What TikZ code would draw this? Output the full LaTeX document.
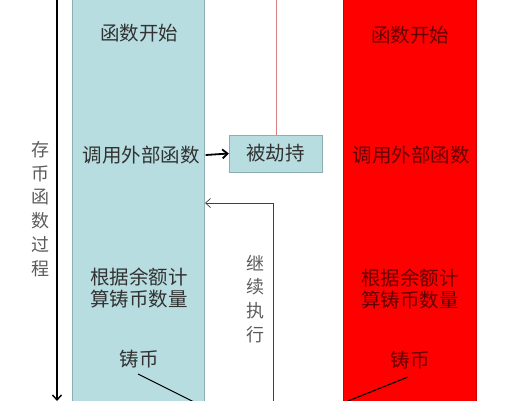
\documentclass[tikz,border=0pt]{standalone}
\usepackage{fontspec}
\newfontfamily\cjk{Noto Sans CJK SC}
\usepackage{xcolor}
\definecolor{tealbg}{RGB}{183,221,224}
\definecolor{tealedge}{RGB}{140,175,180}
\definecolor{txtgray}{RGB}{50,50,50}
\definecolor{dred}{RGB}{100,0,0}
\definecolor{pinkline}{RGB}{215,130,130}
\usepackage{tikz}
\usetikzlibrary{arrows.meta,positioning}

\begin{document}
\begin{tikzpicture}[
  x=1pt,y=-1pt,
  tealcol/.style={rectangle,draw=tealedge,fill=tealbg,minimum width=132,minimum height=440,inner sep=0},
  redcol/.style={rectangle,draw=red!80!black,fill=red,minimum width=133,minimum height=440,inner sep=0},
  hbox/.style={rectangle,draw=tealedge,fill=tealbg,minimum width=93,minimum height=37,inner sep=0,font=\cjk\fontsize{19.5}{22}\selectfont,text=txtgray},
  ltxt/.style={font=\cjk\fontsize{19.5}{22}\selectfont,text=txtgray,align=center,inner sep=0},
  rtxt/.style={font=\cjk\fontsize{19.5}{22}\selectfont,text=dred,align=center,inner sep=0},
  vtxt/.style={font=\cjk\fontsize{18}{23.8}\selectfont,text=txtgray!80,align=center,inner sep=0},
  thickarrow/.style={-{Straight Barb[length=5pt,width=9pt]},line width=1.8pt,black},
  backarrow/.style={-{Straight Barb[length=5pt,width=9pt]},line width=0.7pt,black!75},
  diag/.style={black,line width=1.1pt}
]
  \useasboundingbox (0,0) rectangle (520,400);
  \clip (0,0) rectangle (520,400);

  % two columns
  \node[tealcol] (lcol) at (138,200) {};
  \node[redcol] (rcol) at (409.5,200) {};

  % left column texts
  \node[ltxt] (lstart) at (139,33) {函数开始};
  \node[ltxt] (lcall) at (141,155) {调用外部函数};
  \node[ltxt] (lcalc) at (139,288) {根据余额计\\算铸币数量};
  \node[ltxt] (lmint) at (139,359) {铸币};

  % right column texts
  \node[rtxt] (rstart) at (410,35) {函数开始};
  \node[rtxt] (rcall) at (411,155) {调用外部函数};
  \node[rtxt] (rcalc) at (410,289) {根据余额计\\算铸币数量};
  \node[rtxt] (rmint) at (410,360) {铸币};

  % hijack
  \node[hbox] (hijack) at (275.5,153.5) {被劫持};
  \draw[thickarrow] (lcall.east) ++(6,0) coordinate (callout) -- (hijack.west);
  \coordinate (htop) at (276,-5);
  \draw[pinkline,line width=0.8pt] ([xshift=0.5]hijack.north) -- (htop);

  % return path
  \coordinate (retfoot) at (273,410);
  \coordinate (retin) at (205,203);
  \draw[backarrow] (retfoot) |- (retin);
  \node[vtxt] (goon) at (255,299) {继\\续\\执\\行};

  % left axis
  \coordinate (axtop) at (57,-5);
  \coordinate (axbot) at (57,401);
  \draw[thickarrow,line width=1.4pt] (axtop) -- (axbot);
  \node[vtxt] (deposit) at (40,209) {存\\币\\函\\数\\过\\程};

  % diagonals
  \coordinate (ld1) at (138,374);
  \coordinate (ld2) at (196,403);
  \draw[diag] (ld1) -- (ld2);
  \coordinate (rd1) at (408,377);
  \coordinate (rd2) at (343,403);
  \draw[diag] (rd1) -- (rd2);
\end{tikzpicture}
\end{document}
